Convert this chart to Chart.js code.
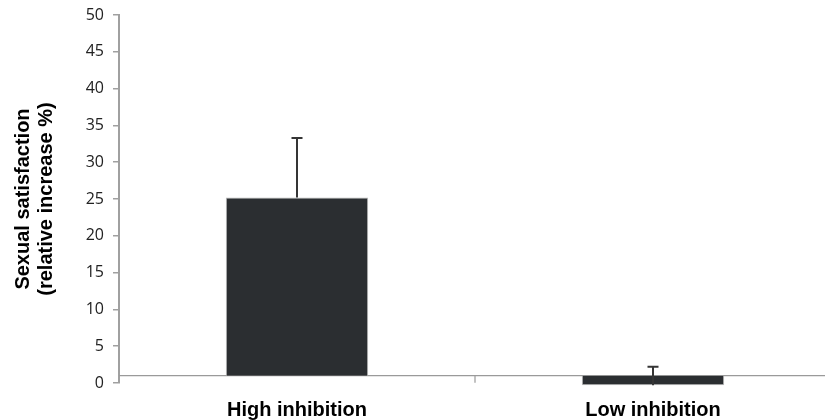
<!DOCTYPE html>
<html>
<head>
<meta charset="utf-8">
<script src="https://cdn.jsdelivr.net/npm/chart.js@4/dist/chart.umd.min.js"></script>
<style>
  html, body { margin: 0; padding: 0; background: #fff; overflow: hidden; }
  #wrap { width: 831px; height: 420px; position: relative; }
</style>
</head>
<body>
<div id="wrap"><canvas id="c"></canvas></div>
<script>
// ---- data ----
const categories = ['High inhibition', 'Low inhibition'];
const meanValues = [25.2, -0.3];
const plusErrors = [8.1, 2.5];
const yMin = 0;
const yMax = 50;
const yStep = 5;
const axisCrossing = 1;   // value where the category axis crosses the value axis
const yTitle = ['Sexual satisfaction', '(relative increase %)'];

// ---- plugins ----
const crossingAxis = {
  id: 'crossingAxis',
  beforeDatasetsDraw(chart) {
    const { ctx, chartArea, scales } = chart;
    const y = scales.y.getPixelForValue(axisCrossing);
    ctx.save();
    ctx.strokeStyle = '#9a9a9a';
    ctx.lineWidth = 1.2;
    ctx.beginPath();
    ctx.moveTo(chartArea.left, y);
    ctx.lineTo(chartArea.right, y);
    const n = categories.length;
    for (let i = 1; i < n; i++) {
      const x = (scales.x.getPixelForValue(i - 1) + scales.x.getPixelForValue(i)) / 2;
      ctx.moveTo(x, y);
      ctx.lineTo(x, y + 7);
    }
    ctx.stroke();
    ctx.restore();
  }
};

const errorBars = {
  id: 'errorBars',
  afterDatasetsDraw(chart) {
    const { ctx, scales } = chart;
    const meta = chart.getDatasetMeta(0);
    ctx.save();
    ctx.strokeStyle = '#353535';
    ctx.lineWidth = 2;
    meta.data.forEach((bar, i) => {
      const x = bar.x;
      const y0 = scales.y.getPixelForValue(meanValues[i]);
      const y1 = scales.y.getPixelForValue(meanValues[i] + plusErrors[i]);
      ctx.beginPath();
      ctx.moveTo(x, y0);
      ctx.lineTo(x, y1);
      ctx.moveTo(x - 5.5, y1);
      ctx.lineTo(x + 5.5, y1);
      ctx.stroke();
    });
    ctx.restore();
  }
};

new Chart(document.getElementById('c'), {
  type: 'bar',
  data: {
    labels: categories,
    datasets: [{
      data: meanValues,
      base: axisCrossing,
      backgroundColor: '#2b2e31',
      borderColor: '#b8b8b8',
      borderWidth: 1,
      barPercentage: 0.4,
      categoryPercentage: 1.0,
      clip: false
    }]
  },
  options: {
    responsive: true,
    maintainAspectRatio: false,
    animation: false,
    layout: { padding: { top: 15, right: 0, bottom: 0, left: 0 } },
    plugins: {
      legend: { display: false },
      tooltip: { enabled: false }
    },
    scales: {
      x: {
        position: 'bottom',
        border: { display: false },
        grid: { display: false, drawTicks: false },
        ticks: {
          color: '#000',
          padding: 15,
          font: { family: '"Liberation Sans", Arial, sans-serif', size: 20, weight: 'bold' }
        },
        afterFit(scale) { scale.height = 37; scale.paddingLeft = 0; scale.paddingRight = 0; }
      },
      y: {
        min: yMin,
        max: yMax,
        border: { display: true, color: '#a0a0a0', width: 2 },
        grid: { drawOnChartArea: false, drawTicks: true, tickLength: 6, color: '#a0a0a0', lineWidth: 1.5 },
        ticks: {
          stepSize: yStep,
          color: '#222',
          padding: 9,
          font: { family: '"Open Sans", "Liberation Sans", sans-serif', size: 16 }
        },
        title: {
          display: true,
          text: yTitle,
          color: '#000',
          padding: { top: 11.5, bottom: 0 },
          font: { family: '"Liberation Sans", Arial, sans-serif', size: 20, weight: 'bold', lineHeight: 1.15 }
        },
        afterFit(scale) { scale.width = 119; scale.paddingTop = 0; scale.paddingBottom = 0; }
      }
    }
  },
  plugins: [crossingAxis, errorBars]
});
</script>
</body>
</html>
